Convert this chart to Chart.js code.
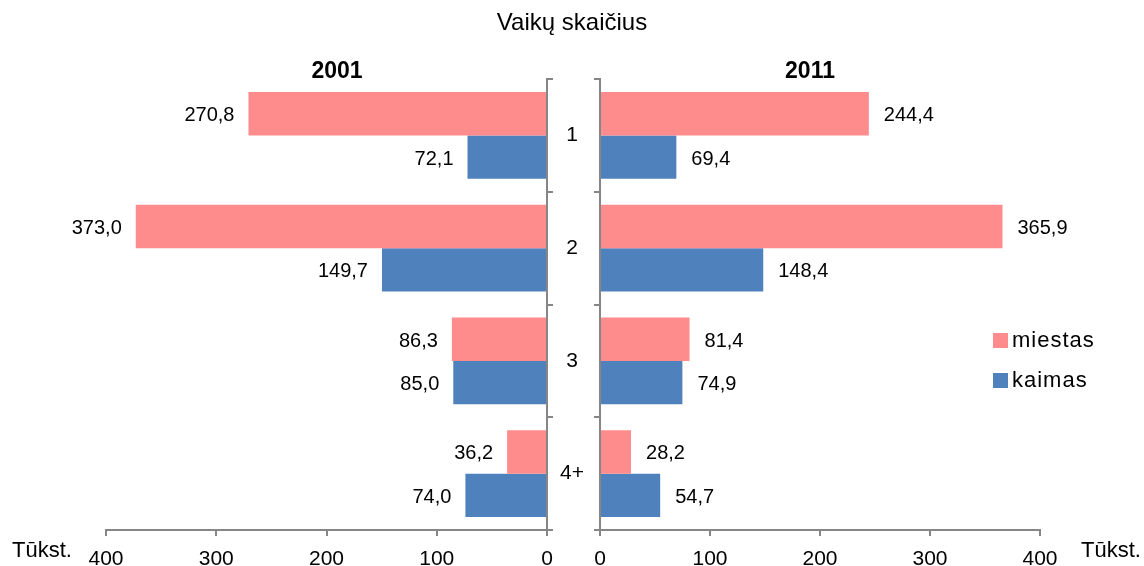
<!DOCTYPE html>
<html>
<head>
<meta charset="utf-8">
<script src="https://cdn.jsdelivr.net/npm/chart.js@4/dist/chart.umd.min.js"></script>
<style>
  body { margin: 0; background: #fff; font-family: "Liberation Sans", Arial, sans-serif; }
  #wrap { position: relative; width: 1144px; height: 566px; overflow: hidden; }
  canvas { position: absolute; top: 0; }
  .txt { position: absolute; white-space: nowrap; color: #000; line-height: 1; }
  .legend-item { position: absolute; left: 993px; font-size: 22px; letter-spacing: 1px; line-height: 1; }
  .legend-item span.box { display: inline-block; width: 15px; height: 15px; margin-right: 4px; vertical-align: -1px; }
</style>
</head>
<body>
<div id="wrap">
  <canvas id="leftChart" width="560" height="566" style="left:0"></canvas>
  <canvas id="rightChart" width="597" height="566" style="left:547px"></canvas>
  <div class="txt" style="left:0;width:1144px;text-align:center;top:10px;font-size:24px;">Vaikų skaičius</div>
  <div class="txt" style="left:287px;width:100px;text-align:center;top:59px;font-size:23px;font-weight:bold;">2001</div>
  <div class="txt" style="left:760px;width:100px;text-align:center;top:59px;font-size:23px;font-weight:bold;">2011</div>
  <div class="txt" style="left:12px;top:539px;font-size:22px;">Tūkst.</div>
  <div class="txt" style="left:1081px;top:539px;font-size:22px;">Tūkst.</div>
  <div id="legend"></div>
</div>
<script>
const categories = ["1", "2", "3", "4+"];
const seriesNames = ["miestas", "kaimas"];
const seriesColors = ["#ff8c8c", "#4f81bd"];

const miestas2001 = [270.8, 373.0, 86.3, 36.2];
const kaimas2001 = [72.1, 149.7, 85.0, 74.0];
const miestas2011 = [244.4, 365.9, 81.4, 28.2];
const kaimas2011 = [69.4, 148.4, 74.9, 54.7];

const xTicks = [0, 100, 200, 300, 400];

const AXIS_COLOR = "#868686";
const FONT = "'Liberation Sans', Arial, sans-serif";

// value labels next to the bar tips
const valueLabels = {
  id: "valueLabels",
  afterDatasetsDraw(chart, args, opts) {
    const ctx = chart.ctx;
    ctx.save();
    ctx.font = "20px " + FONT;
    ctx.fillStyle = "#000";
    ctx.textBaseline = "middle";
    chart.data.datasets.forEach((ds, i) => {
      chart.getDatasetMeta(i).data.forEach((bar, j) => {
        const txt = ds.data[j].toFixed(1).replace(".", ",");
        if (opts.side === "left") {
          ctx.textAlign = "right";
          ctx.fillText(txt, bar.x - 14, bar.y + 2);
        } else {
          ctx.textAlign = "left";
          ctx.fillText(txt, bar.x + 15, bar.y + 2);
        }
      });
    });
    ctx.restore();
  }
};

function makeDatasets(a, b) {
  return [a, b].map((d, i) => ({
    label: seriesNames[i],
    data: d,
    backgroundColor: seriesColors[i],
    borderWidth: 0,
    categoryPercentage: 0.77,
    barPercentage: 1
  }));
}

function xScale(reverse) {
  return {
    type: "linear",
    min: 0,
    max: 400,
    reverse: reverse,
    afterBuildTicks: s => { s.ticks = xTicks.map(v => ({ value: v })); },
    afterFit: s => { s.height = 36; },
    grid: { drawOnChartArea: false, tickLength: 6, color: AXIS_COLOR, lineWidth: 2 },
    border: { color: AXIS_COLOR, width: 2 },
    ticks: { color: "#000", font: { family: FONT, size: 21, lineHeight: 1 }, padding: 13, maxRotation: 0 }
  };
}

const left = new Chart(document.getElementById("leftChart"), {
  type: "bar",
  data: { labels: categories, datasets: makeDatasets(miestas2001, kaimas2001) },
  options: {
    indexAxis: "y",
    responsive: false,
    animation: false,
    layout: { padding: { left: 106, right: 0, top: 79, bottom: 0 } },
    plugins: { legend: { display: false }, tooltip: { enabled: false }, valueLabels: { side: "left" } },
    scales: {
      x: xScale(true),
      y: {
        position: "right",
        afterFit: s => { s.width = 13; },
        grid: { drawOnChartArea: false, tickLength: 6, color: AXIS_COLOR, lineWidth: 2 },
        border: { color: AXIS_COLOR, width: 2 },
        ticks: { display: false }
      }
    }
  },
  plugins: [valueLabels]
});

const right = new Chart(document.getElementById("rightChart"), {
  type: "bar",
  data: { labels: categories, datasets: makeDatasets(miestas2011, kaimas2011) },
  options: {
    indexAxis: "y",
    responsive: false,
    animation: false,
    layout: { padding: { left: 0, right: 104, top: 79, bottom: 0 } },
    plugins: { legend: { display: false }, tooltip: { enabled: false }, valueLabels: { side: "right" } },
    scales: {
      x: xScale(false),
      y: {
        position: "left",
        afterFit: s => { s.width = 53; },
        grid: { drawOnChartArea: false, tickLength: 6, color: AXIS_COLOR, lineWidth: 2 },
        border: { color: AXIS_COLOR, width: 2 },
        ticks: { color: "#000", font: { family: FONT, size: 21 }, crossAlign: "center", padding: 10 }
      }
    }
  },
  plugins: [valueLabels]
});

// legend built from the series
const legend = document.getElementById("legend");
seriesNames.forEach((name, i) => {
  const item = document.createElement("div");
  item.className = "legend-item";
  item.style.top = (329 + i * 40) + "px";
  item.innerHTML = `<span class="box" style="background:${seriesColors[i]}"></span>${name}`;
  legend.appendChild(item);
});
</script>
</body>
</html>
